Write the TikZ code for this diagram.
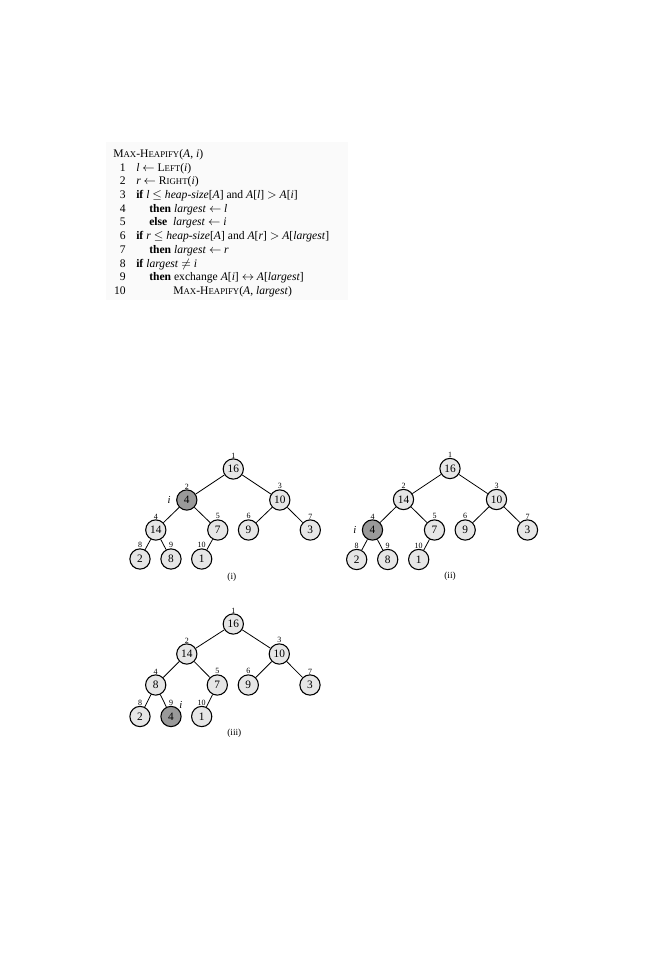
\documentclass[tikz,border=0pt]{standalone}
\usepackage{fontspec}
\setmainfont{Liberation Serif}
\usetikzlibrary{calc}
\definecolor{lightg}{HTML}{E6E6E6}
\definecolor{darkg}{HTML}{999999}
\definecolor{codebg}{HTML}{FAFAFA}
\newcommand\fsc[1]{{\fontsize{6.6}{7}\selectfont #1}}
\tikzset{
  hn/.style={circle, draw, line width=0.8pt, fill=lightg, minimum size=15.2pt, inner sep=0pt,
    font=\fontsize{8.5}{10}\selectfont, label distance=2pt},
  hd/.style={hn, fill=darkg},
  idx/.style={font=\fontsize{6}{6.5}\selectfont, inner sep=0pt},
  ilab/.style={font=\fontsize{8}{9}\selectfont\itshape, inner sep=0pt},
  edge/.style={line width=0.6pt},
  capt/.style={font=\fontsize{7}{8}\selectfont, inner sep=0pt},
  code/.style={font=\fontsize{8.7}{10}\selectfont, inner sep=0pt, anchor=base west},
  lnum/.style={font=\fontsize{8.7}{10}\selectfont, inner sep=0pt, anchor=base east},
}
\begin{document}
\begin{tikzpicture}[x=0.75pt,y=-0.75pt]
\useasboundingbox (0,0) rectangle (667,960);
\fill[white] (0,0) rectangle (667,960);
% pseudocode
\fill[codebg] (106,142) rectangle (348,300);
\node[code] (title) at (113,157) {M\fsc{AX}-H\fsc{EAPIFY}(\textit{A}, \textit{i})};
\foreach \k in {1,...,10}{
  \node[lnum] (n\k) at (126,{171+(\k-1)*13.72}) {\k};
}
\node[code] (c1) at (136,171) {\textit{l} $\leftarrow$ L\fsc{EFT}(\textit{i})};
\node[code] (c2) at (136,184.72) {\textit{r} $\leftarrow$ R\fsc{IGHT}(\textit{i})};
\node[code] (c3) at (136,198.44) {\textbf{if} \textit{l} $\le$ \textit{heap-size}[\textit{A}] and \textit{A}[\textit{l}] $>$ \textit{A}[\textit{i}]};
\node[code] (c4) at (149,212.16) {\textbf{then} \textit{largest} $\leftarrow$ \textit{l}};
\node[code] (c5) at (149,225.88) {\textbf{else}\ \ \textit{largest} $\leftarrow$ \textit{i}};
\node[code] (c6) at (136,239.6) {\textbf{if} \textit{r} $\le$ \textit{heap-size}[\textit{A}] and \textit{A}[\textit{r}] $>$ \textit{A}[\textit{largest}]};
\node[code] (c7) at (149,253.32) {\textbf{then} \textit{largest} $\leftarrow$ \textit{r}};
\node[code] (c8) at (136,267.04) {\textbf{if} \textit{largest} $\ne$ \textit{i}};
\node[code] (c9) at (149,280.76) {\textbf{then} exchange \textit{A}[\textit{i}] $\leftrightarrow$ \textit{A}[\textit{largest}]};
\node[code] (c10) at (173,294.48) {M\fsc{AX}-H\fsc{EAPIFY}(\textit{A}, \textit{largest})};

% tree (i)
\begin{scope}[shift={(233.3,469)}]
\node[hn, label={[idx]above:1}] (a1) at (0,0) {16};
\node[hd, label={[idx]above:2}, label={[ilab,label distance=4pt]left:i}] (a2) at (-46.5,31) {4};
\node[hn, label={[idx]above:3}] (a3) at (46.5,31) {10};
\node[hn, label={[idx]above:4}] (a4) at (-77.5,61) {14};
\node[hn, label={[idx]above:5}] (a5) at (-15.5,61) {7};
\node[hn, label={[idx]above:6}] (a6) at (15.2,61) {9};
\node[hn, label={[idx]above:7}] (a7) at (77,61) {3};
\node[hn, label={[idx]above:8}] (a8) at (-93.3,90) {2};
\node[hn, label={[idx]above:9}] (a9) at (-62.3,90) {8};
\node[hn, label={[idx]above:10}] (a10) at (-31.6,90) {1};
\node[capt] (acap) at (-1.5,108) {(i)};
\end{scope}
\draw[edge] (a1)--(a2) (a1)--(a3) (a2)--(a4) (a2)--(a5) (a3)--(a6) (a3)--(a7) (a4)--(a8) (a4)--(a9) (a5)--(a10);

% tree (ii)
\begin{scope}[shift={(450,468.5)}]
\node[hn, label={[idx]above:1}] (b1) at (0,0) {16};
\node[hn, label={[idx]above:2}] (b2) at (-46.5,31) {14};
\node[hn, label={[idx]above:3}] (b3) at (46.5,31) {10};
\node[hd, label={[idx]above:4}, label={[ilab,label distance=4pt]left:i}] (b4) at (-77.5,61.5) {4};
\node[hn, label={[idx]above:5}] (b5) at (-15.5,61.5) {7};
\node[hn, label={[idx]above:6}] (b6) at (15.2,61.5) {9};
\node[hn, label={[idx]above:7}] (b7) at (77.5,61.5) {3};
\node[hn, label={[idx]above:8}] (b8) at (-93.3,91) {2};
\node[hn, label={[idx]above:9}] (b9) at (-62.3,91) {8};
\node[hn, label={[idx]above:10}] (b10) at (-31.3,91) {1};
\node[capt] (bcap) at (0,107.5) {(ii)};
\end{scope}
\draw[edge] (b1)--(b2) (b1)--(b3) (b2)--(b4) (b2)--(b5) (b3)--(b6) (b3)--(b7) (b4)--(b8) (b4)--(b9) (b5)--(b10);

% tree (iii)
\begin{scope}[shift={(233.3,624)}]
\node[hn, label={[idx]above:1}] (c1n) at (0,0) {16};
\node[hn, label={[idx]above:2}] (c2n) at (-46.5,30) {14};
\node[hn, label={[idx]above:3}] (c3n) at (46,30) {10};
\node[hn, label={[idx]above:4}] (c4n) at (-77.6,61) {8};
\node[hn, label={[idx]above:5}] (c5n) at (-16,61) {7};
\node[hn, label={[idx]above:6}] (c6n) at (15,61) {9};
\node[hn, label={[idx]above:7}] (c7n) at (76.7,61) {3};
\node[hn, label={[idx]above:8}] (c8n) at (-93.3,92.5) {2};
\node[hd, label={[idx]above:9}, label={[ilab,label distance=0.5pt]45:i}] (c9n) at (-62.3,92.5) {4};
\node[hn, label={[idx]above:10}] (c10n) at (-31.6,92.5) {1};
\node[capt] (ccap) at (1,109.3) {(iii)};
\end{scope}
\draw[edge] (c1n)--(c2n) (c1n)--(c3n) (c2n)--(c4n) (c2n)--(c5n) (c3n)--(c6n) (c3n)--(c7n) (c4n)--(c8n) (c4n)--(c9n) (c5n)--(c10n);
\end{tikzpicture}
\end{document}
